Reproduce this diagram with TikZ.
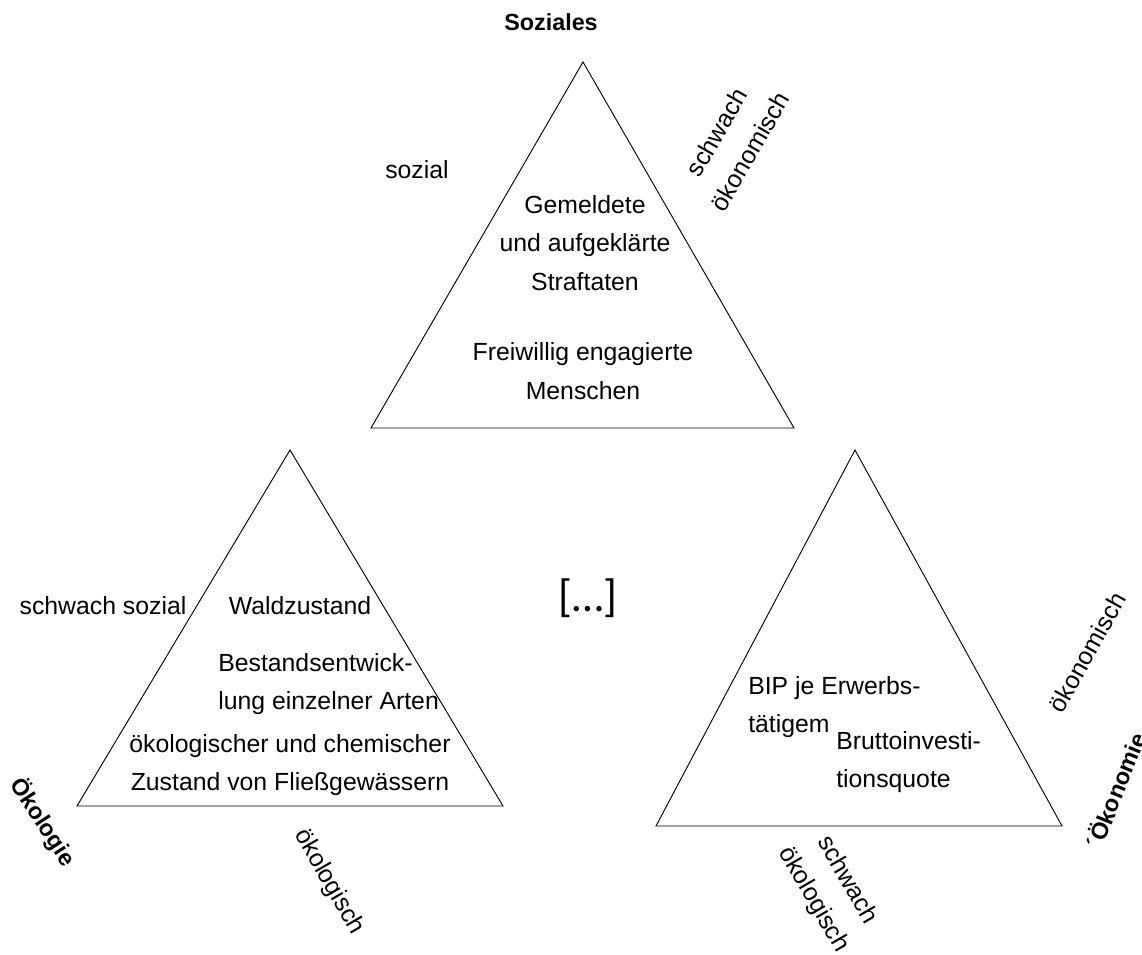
\documentclass[tikz,border=0pt]{standalone}
\usepackage{fontspec}
\setmainfont{Liberation Sans}
\newfontfamily\dotsfont{Carlito}

\begin{document}
\begin{tikzpicture}[x=0.75pt,y=-0.75pt,
    txt/.style={align=center, inner sep=0pt, font=\fontsize{18.6}{28.9}\selectfont},
    txtl/.style={align=left, anchor=west, inner sep=0pt, font=\fontsize{18.6}{28.9}\selectfont},
    dim/.style={font=\bfseries\fontsize{17.5}{21}\selectfont, inner sep=0pt},
    tri/.style={draw=black, line width=0.7pt, line join=miter}]
    \useasboundingbox (0,0) rectangle (1142,954);

    % Soziales
    \coordinate (sTop) at (583,62);
    \coordinate (sLeft) at (371,428);
    \coordinate (sRight) at (794,428);
    \draw[tri] (sTop) -- (sLeft) -- (sRight) -- cycle;
    \node[dim] (soziales) at (551,22) {Soziales};
    \node[txt] (sozial) at (417,170) {sozial};
    \node[txt, rotate=60] (schwOek) at (733,142) {schwach\\ ökonomisch};
    \node[txt] (straftaten) at (585,243) {Gemeldete\\ und aufgeklärte\\ Straftaten};
    \node[txt] (freiwillig) at (583,371) {Freiwillig engagierte\\ Menschen};

    % Oekologie
    \coordinate (lTop) at (290,450);
    \coordinate (lLeft) at (77,806);
    \coordinate (lRight) at (503,806);
    \draw[tri] (lTop) -- (lLeft) -- (lRight) -- cycle;
    \node[dim, rotate=-57] (oekologie) at (43,822) {Ökologie};
    \node[txt] (schwSoz) at (103,606) {schwach sozial};
    \node[txt] (wald) at (300,606) {Waldzustand};
    \node[txtl] (bestand) at (218,684) {Bestandsentwick-\\ lung einzelner Arten};
    \node[txt] (fliess) at (290,765) {ökologischer und chemischer\\ Zustand von Fließgewässern};
    \node[txt, rotate=-60] (oekol) at (329,882) {ökologisch};

    % Oekonomie
    \coordinate (rTop) at (855,450);
    \coordinate (rLeft) at (656,826);
    \coordinate (rRight) at (1062,826);
    \draw[tri] (rTop) -- (rLeft) -- (rRight) -- cycle;
    \node[txtl] (bip) at (748,707) {BIP je Erwerbs-\\ tätigem};
    \node[txtl] (brutto) at (836,762) {Bruttoinvesti-\\ tionsquote};
    \node[txt, rotate=61] (oekon) at (1087,652) {ökonomisch};
    \node[txt, rotate=-60] (schwOekol) at (830,890) {schwach\\ ökologisch};
    \node[dim, rotate=68] (oekonomie) at (1115,790) {´Ökonomie};

    % Auslassung
    \node[inner sep=0pt, font=\dotsfont\fontsize{34}{38}\selectfont] (dots) at (588,598) {[…]};
\end{tikzpicture}
\end{document}
